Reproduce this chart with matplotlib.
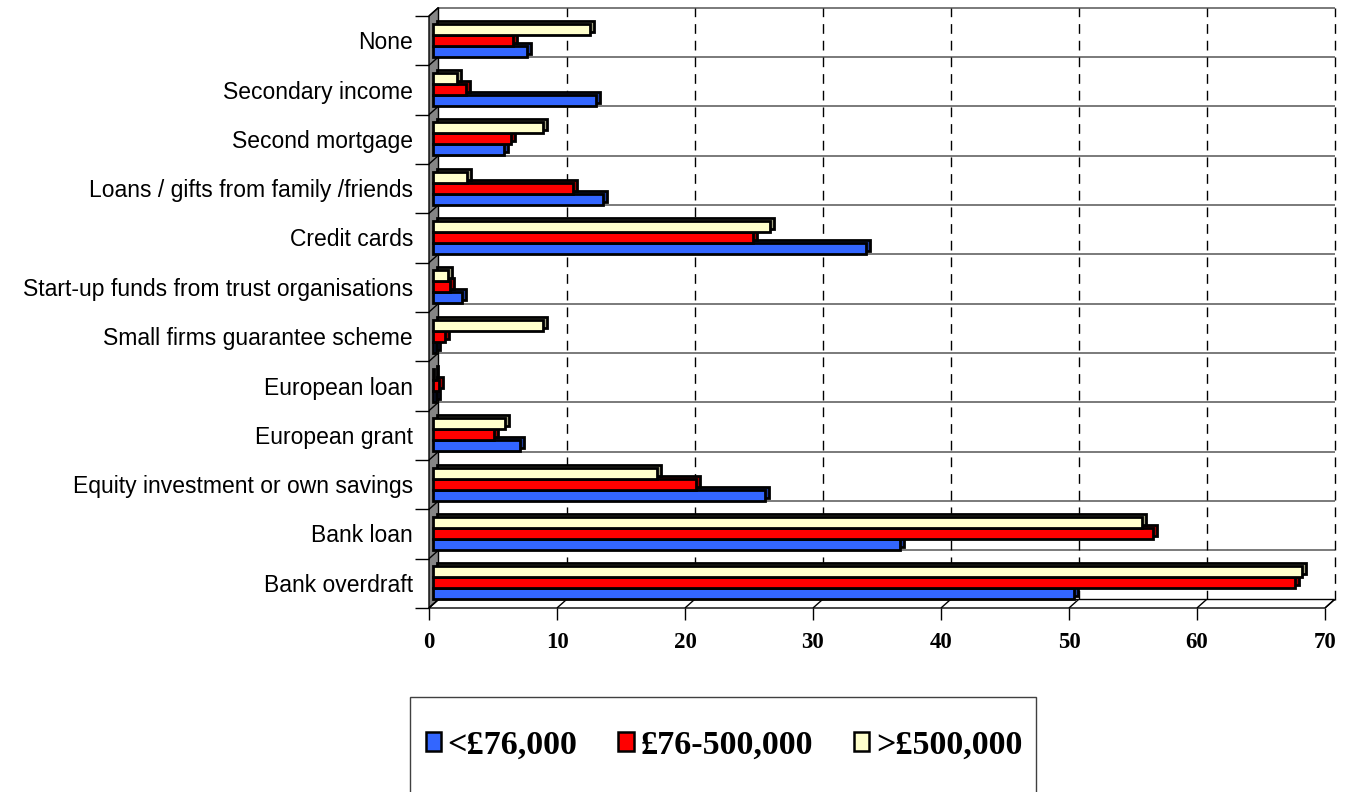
import numpy as np
import matplotlib.pyplot as plt
from matplotlib.patches import Polygon, Rectangle, Patch
from matplotlib.transforms import ScaledTranslation

# funding sources, bottom row first
categories = [
    "Bank overdraft",
    "Bank loan",
    "Equity investment or own savings",
    "European grant",
    "European loan",
    "Small firms guarantee scheme",
    "Start-up funds from trust organisations",
    "Credit cards",
    "Loans / gifts from family /friends",
    "Second mortgage",
    "Secondary income",
    "None",
]
series_names = ["<£76,000", "£76-500,000", ">£500,000"]
small_firms = [50.1, 36.5, 26.0, 6.8, 0.3, 0.3, 2.3, 33.9, 13.3, 5.6, 12.8, 7.4]
mid_firms = [67.4, 56.3, 20.6, 4.8, 0.5, 1.0, 1.4, 25.0, 11.0, 6.1, 2.6, 6.3]
large_firms = [67.9, 55.4, 17.5, 5.7, 0.1, 8.6, 1.2, 26.4, 2.7, 8.6, 1.9, 12.3]
x_ticks = [0, 10, 20, 30, 40, 50, 60, 70]

face_colors = ["#3366FF", "#FF0000", "#FFFFCC"]
side_colors = ["#1F3D99", "#990000", "#A3A383"]

W, H = 1354, 792
fig = plt.figure(figsize=(W / 100, H / 100), dpi=100)

# plane the bars sit in (pixels)
left_px, right_px = 432.5, 1328.5
top_px, bottom_px = 15.5, 607.5
ax = fig.add_axes([left_px / W, 1 - bottom_px / H,
                   (right_px - left_px) / W, (bottom_px - top_px) / H])
ax.set_xlim(0, 70)
ax.set_ylim(-0.5, len(categories) - 0.5)
ax.axis("off")

sx = (right_px - left_px) / 70
sy = (bottom_px - top_px) / len(categories)


def shift(dx_px, dy_px):
    return dx_px / sx, -dy_px / sy


dxb, dyb = shift(6, -8)      # back wall
dxf, dyf = shift(-3.5, 0.5)  # front edge
y0, y1 = -0.5, len(categories) - 0.5
xmax = x_ticks[-1]
kw = dict(clip_on=False, solid_capstyle="butt")

# back wall: row lines + dashed gridlines
for k in range(len(categories) + 1):
    y = k - 0.5 + dyb
    ax.plot([dxb, xmax + dxb], [y, y], color="#707070", lw=1.3, zorder=1, **kw)
for v in x_ticks[1:]:
    ax.plot([v + dxb] * 2, [y0 + dyb, y1 + dyb], color="black", lw=1,
            dashes=(7, 5), zorder=1, clip_on=False)

# left wall
ax.add_patch(Polygon([(dxf, y0 + dyf), (dxb, y0 + dyb), (dxb, y1 + dyb), (dxf, y1 + dyf)],
                     closed=True, facecolor="#858585", edgecolor="black", lw=1,
                     zorder=2, clip_on=False))
for k in range(len(categories) + 1):
    y = k - 0.5
    ax.plot([dxf, dxb], [y + dyf, y + dyb], color="black", lw=1, zorder=2, **kw)
    ax.plot([dxf - 14 / sx, dxf], [y + dyf, y + dyf], color="black", lw=1, zorder=2, **kw)

# floor and value axis
ax.add_patch(Polygon([(dxf, y0 + dyf), (xmax + dxf, y0 + dyf), (xmax + dxb, y0 + dyb), (dxb, y0 + dyb)],
                     closed=True, facecolor="white", edgecolor="black", lw=1,
                     zorder=2, clip_on=False))
for v in x_ticks:
    ax.plot([v + dxf, v + dxb], [y0 + dyf, y0 + dyb], color="black", lw=1, zorder=2, **kw)
    ax.plot([v + dxf] * 2, [y0 + dyf, y0 + dyf - 12 / sy], color="black", lw=1, zorder=2, **kw)
    ax.text(v + dxf, y0 + dyf - 34 / sy, str(v), ha="center", va="center",
            fontsize=16.5, fontweight="bold", family="Liberation Serif")

for k, cat in enumerate(categories):
    ax.text(dxf - 16 / sx, k + dyf - 2 / sy, cat, ha="right", va="center",
            fontsize=16.5, family="Liberation Sans")

# 3D bars: darker extruded copy behind each face
depth = ScaledTranslation(0.04, 0.03, fig.dpi_scale_trans)
bar_h = 0.225
ypos = np.arange(len(categories))
for i, vals in enumerate([small_firms, mid_firms, large_firms]):
    yy = ypos + (i - 1) * bar_h
    ax.barh(yy, vals, height=bar_h, color=side_colors[i], edgecolor="black",
            lw=2, transform=ax.transData + depth, zorder=3 + 2 * i, clip_on=False)
    ax.barh(yy, vals, height=bar_h, color=face_colors[i], edgecolor="black",
            lw=2, zorder=4 + 2 * i, clip_on=False)

# legend box
fig.patches.append(Rectangle((410 / W, -0.05), (1036 - 410) / W, 0.05 + (792 - 697) / H,
                             transform=fig.transFigure, facecolor="white",
                             edgecolor="#404040", lw=1))
handles = [Patch(facecolor=c, edgecolor="black", lw=1.8) for c in face_colors]
fig.legend(handles, series_names, loc="center", bbox_to_anchor=(724 / W, 1 - 745 / H),
           ncol=3, frameon=False, handlelength=0.45, handleheight=0.45,
           handletextpad=0.2, columnspacing=1.2,
           prop=dict(family="Liberation Serif", weight="bold", size=24.5))

fig.savefig("out.png", dpi=100)
